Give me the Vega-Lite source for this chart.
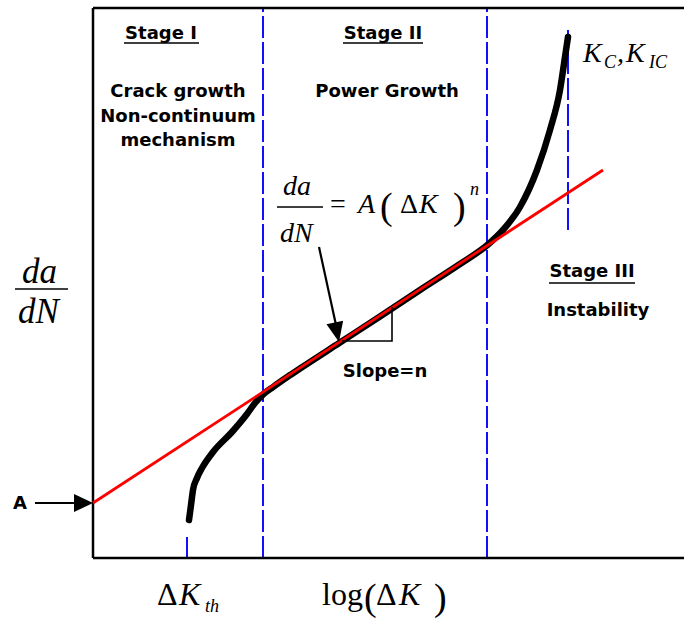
{
  "$schema": "https://vega.github.io/schema/vega-lite/v6.json",
  "width": 591,
  "height": 550,
  "autosize": {"type": "none"},
  "padding": {"left": 93, "top": 8, "right": 0, "bottom": 61},
  "background": "white",
  "config": {"view": {"stroke": null}},
  "datasets": {
    "frame": [
      {"x": 0, "y": 0, "x2": 0, "y2": 55},
      {"x": 0, "y": 0, "x2": 59.1, "y2": 0},
      {"x": 0, "y": 55, "x2": 59.1, "y2": 55}
    ],
    "dashed": [
      {"x": 17.0, "y": 0, "y2": 55},
      {"x": 39.4, "y": 0, "y2": 55},
      {"x": 47.5, "y": 32.8, "y2": 52.8},
      {"x": 9.4, "y": 0.1, "y2": 2.1}
    ],
    "curve": [
      {"x": 9.6, "y": 3.8},
      {"x": 9.8, "y": 5.3},
      {"x": 10.0, "y": 6.8},
      {"x": 10.4, "y": 8.0},
      {"x": 10.9, "y": 9.0},
      {"x": 12.0, "y": 10.6},
      {"x": 13.9, "y": 12.6},
      {"x": 15.4, "y": 14.4},
      {"x": 16.2, "y": 15.5},
      {"x": 17.0, "y": 16.35},
      {"x": 18.0, "y": 17.1},
      {"x": 19.5, "y": 18.15},
      {"x": 20.7, "y": 18.95},
      {"x": 24.7, "y": 21.55},
      {"x": 28.7, "y": 24.15},
      {"x": 32.7, "y": 26.8},
      {"x": 36.7, "y": 29.4},
      {"x": 39.5, "y": 31.35},
      {"x": 41.0, "y": 32.8},
      {"x": 42.7, "y": 35.1},
      {"x": 44.4, "y": 38.8},
      {"x": 45.7, "y": 42.8},
      {"x": 46.7, "y": 46.8},
      {"x": 47.2, "y": 50.1},
      {"x": 47.5, "y": 52.1}
    ],
    "fit": [
      {"x": 0, "y": 5.5},
      {"x": 51.0, "y": 38.8}
    ],
    "triangle": [
      {"x": 24.9, "y": 21.7, "o": 1},
      {"x": 29.9, "y": 21.7, "o": 2},
      {"x": 29.9, "y": 25.1, "o": 3}
    ],
    "thin": [
      {"x": 3.1, "x2": 10.6, "y": 51.5},
      {"x": 25.0, "x2": 33.0, "y": 51.5},
      {"x": 45.6, "x2": 54.2, "y": 27.5},
      {"x": 18.4, "x2": 23.0, "y": 35.1},
      {"x": -7.8, "x2": -2.5, "y": 26.9}
    ],
    "shafts": [
      {"x": -5.8, "y": 5.5, "x2": -1.8, "y2": 5.5},
      {"x": 22.6, "y": 31.1, "x2": 24.3, "y2": 23.3}
    ],
    "headRight": [{"x": -0.95, "y": 5.5}],
    "headDown": [{"x": 24.39, "y": 22.58}],
    "sans": [
      {"label": "Stage I", "x": 6.8, "y": 52.4},
      {"label": "Stage II", "x": 29.0, "y": 52.4},
      {"label": "Crack growth", "x": 8.5, "y": 46.6},
      {"label": "Non-continuum", "x": 8.5, "y": 44.1},
      {"label": "mechanism", "x": 8.5, "y": 41.7},
      {"label": "Power Growth", "x": 29.4, "y": 46.6},
      {"label": "Stage III", "x": 49.9, "y": 28.6},
      {"label": "Instability", "x": 50.5, "y": 24.7},
      {"label": "Slope=n", "x": 29.2, "y": 18.6},
      {"label": "A", "x": -7.3, "y": 5.4}
    ],
    "italic34": [
      {"label": "da", "x": -7.1, "y": 27.5},
      {"label": "dN", "x": -7.5, "y": 23.5}
    ],
    "italic28": [
      {"label": "K", "x": 49.0, "y": 49.6},
      {"label": ",", "x": 52.4, "y": 49.6},
      {"label": "K", "x": 53.3, "y": 49.6},
      {"label": "A", "x": 26.5, "y": 34.5},
      {"label": "K", "x": 32.6, "y": 34.5},
      {"label": "da", "x": 19.0, "y": 36.3},
      {"label": "dN", "x": 18.7, "y": 31.6}
    ],
    "italic18": [
      {"label": "C", "x": 51.1, "y": 49.0},
      {"label": "IC", "x": 55.6, "y": 49.0},
      {"label": "n", "x": 37.7, "y": 36.3},
      {"label": "th", "x": 11.2, "y": -5.4}
    ],
    "italic32": [
      {"label": "K", "x": 30.6, "y": -4.7},
      {"label": "K", "x": 8.6, "y": -4.7}
    ],
    "regular32": [
      {"label": "log", "x": 22.9, "y": -4.7},
      {"label": "Δ", "x": 28.3, "y": -4.7},
      {"label": "Δ", "x": 6.4, "y": -4.7}
    ],
    "regular28": [
      {"label": "=", "x": 23.7, "y": 34.5},
      {"label": "Δ", "x": 30.7, "y": 34.5}
    ],
    "parens": [
      {"label": "(", "x": 28.7, "y": 33.9},
      {"label": ")", "x": 36.0, "y": 33.9},
      {"label": "(", "x": 27.1, "y": -5.2},
      {"label": ")", "x": 34.1, "y": -5.2}
    ]
  },
  "encoding": {
    "x": {"field": "x", "type": "quantitative", "scale": {"domain": [0, 59.1], "nice": false, "zero": false}, "axis": null},
    "y": {"field": "y", "type": "quantitative", "scale": {"domain": [0, 55], "nice": false, "zero": false}, "axis": null}
  },
  "layer": [
    {
      "data": {"name": "dashed"},
      "mark": {"type": "rule", "color": "#1010ff", "strokeWidth": 2, "strokeDash": [22, 4]},
      "encoding": {"y2": {"field": "y2"}}
    },
    {
      "data": {"name": "frame"},
      "mark": {"type": "rule", "color": "black", "strokeWidth": 2.5},
      "encoding": {"x2": {"field": "x2"}, "y2": {"field": "y2"}}
    },
    {
      "data": {"name": "curve"},
      "mark": {"type": "line", "color": "black", "strokeWidth": 6.5, "interpolate": "monotone", "strokeCap": "round"},
      "encoding": {}
    },
    {
      "data": {"name": "fit"},
      "mark": {"type": "line", "color": "#ff0000", "strokeWidth": 2.8},
      "encoding": {}
    },
    {
      "data": {"name": "triangle"},
      "mark": {"type": "line", "color": "black", "strokeWidth": 1.6},
      "encoding": {"order": {"field": "o", "type": "quantitative"}}
    },
    {
      "data": {"name": "thin"},
      "mark": {"type": "rule", "color": "black", "strokeWidth": 1.6},
      "encoding": {"x2": {"field": "x2"}}
    },
    {
      "data": {"name": "shafts"},
      "mark": {"type": "rule", "color": "black", "strokeWidth": 2.2},
      "encoding": {"x2": {"field": "x2"}, "y2": {"field": "y2"}}
    },
    {
      "data": {"name": "headRight"},
      "mark": {"type": "point", "shape": "M-1,-0.95L1,0L-1,0.95Z", "size": 361, "filled": true, "color": "black", "opacity": 1},
      "encoding": {}
    },
    {
      "data": {"name": "headDown"},
      "mark": {"type": "point", "shape": "M-0.85,-1L0.85,-1L0,1Z", "size": 400, "angle": 348, "filled": true, "color": "black", "opacity": 1},
      "encoding": {}
    },
    {
      "data": {"name": "sans"},
      "mark": {"type": "text", "font": "DejaVu Sans", "fontWeight": "bold", "fontSize": 18, "align": "center", "baseline": "middle", "color": "black"},
      "encoding": {"text": {"field": "label"}}
    },
    {
      "data": {"name": "italic34"},
      "mark": {"type": "text", "font": "Liberation Serif", "fontStyle": "italic", "fontSize": 35, "align": "left", "baseline": "alphabetic", "color": "black"},
      "encoding": {"text": {"field": "label"}}
    },
    {
      "data": {"name": "italic28"},
      "mark": {"type": "text", "font": "Liberation Serif", "fontStyle": "italic", "fontSize": 28, "align": "left", "baseline": "alphabetic", "color": "black"},
      "encoding": {"text": {"field": "label"}}
    },
    {
      "data": {"name": "italic18"},
      "mark": {"type": "text", "font": "Liberation Serif", "fontStyle": "italic", "fontSize": 18, "align": "left", "baseline": "alphabetic", "color": "black"},
      "encoding": {"text": {"field": "label"}}
    },
    {
      "data": {"name": "italic32"},
      "mark": {"type": "text", "font": "Liberation Serif", "fontStyle": "italic", "fontSize": 32, "align": "left", "baseline": "alphabetic", "color": "black"},
      "encoding": {"text": {"field": "label"}}
    },
    {
      "data": {"name": "regular32"},
      "mark": {"type": "text", "font": "Liberation Serif", "fontSize": 32, "align": "left", "baseline": "alphabetic", "color": "black"},
      "encoding": {"text": {"field": "label"}}
    },
    {
      "data": {"name": "regular28"},
      "mark": {"type": "text", "font": "Liberation Serif", "fontSize": 28, "align": "left", "baseline": "alphabetic", "color": "black"},
      "encoding": {"text": {"field": "label"}}
    },
    {
      "data": {"name": "parens"},
      "mark": {"type": "text", "font": "Liberation Serif", "fontSize": 38, "align": "left", "baseline": "alphabetic", "color": "black"},
      "encoding": {"text": {"field": "label"}}
    }
  ]
}
